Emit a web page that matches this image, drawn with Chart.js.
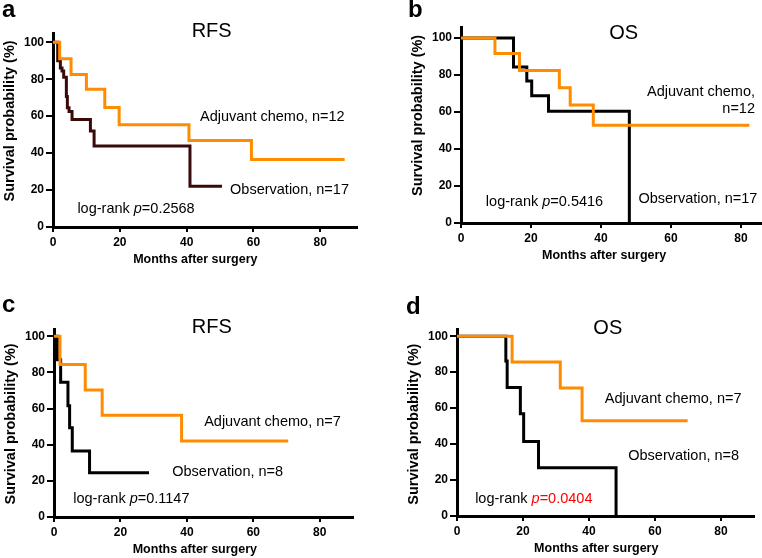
<!DOCTYPE html>
<html>
<head>
<meta charset="utf-8">
<script src="https://cdn.jsdelivr.net/npm/chart.js@4.4.1/dist/chart.umd.min.js"></script>
<style>
  html, body { margin: 0; padding: 0; background: #fff; }
  #fig { position: relative; width: 762px; height: 558px; }
  #fig canvas { position: absolute; }
</style>
</head>
<body>
<div id="fig">
  <canvas id="panel_a" width="381" height="279" style="left:0;top:0"></canvas>
  <canvas id="panel_b" width="381" height="279" style="left:381px;top:0"></canvas>
  <canvas id="panel_c" width="381" height="279" style="left:0;top:279px"></canvas>
  <canvas id="panel_d" width="381" height="279" style="left:381px;top:279px"></canvas>
</div>
<script>
const FONT = "'Liberation Sans', Arial, Helvetica, sans-serif";
const ORANGE = '#ff8c00';

const xTickValues = [0, 20, 40, 60, 80];
const yTickValues = [0, 20, 40, 60, 80, 100];

// a - RFS, all patients
const aChemoMonths = [0, 2.0, 5.4, 10.0, 15.5, 19.8, 40.7, 59.4, 87.3];
const aChemoSurv   = [100, 91.0, 82.5, 74.5, 64.7, 55.3, 46.8, 36.5, 36.5];
const aObsMonths   = [0, 1.4, 2.2, 2.7, 3.2, 4.0, 4.3, 4.8, 5.7, 11.2, 12.3, 41.0, 50.6];
const aObsSurv     = [100, 90, 86, 84.5, 81, 70.6, 64.5, 62.5, 58.2, 52, 43.8, 22, 22];

// b - OS, all patients
const bChemoMonths = [0, 9.7, 16.7, 28.1, 31.2, 37.8, 82.4];
const bChemoSurv   = [100, 91.7, 82.5, 73.2, 63.8, 52.8, 52.8];
const bObsMonths   = [0, 15.0, 18.8, 20.2, 25.0, 48.1];
const bObsSurv     = [100, 84.3, 76.8, 68.8, 60.4, 0];

// c - RFS, subgroup
const cChemoMonths = [0, 1.8, 9.4, 14.5, 38.4, 70.5];
const cChemoSurv   = [100, 84.3, 70.3, 56.3, 42.0, 42.0];
const cObsMonths   = [0, 1.0, 2.0, 4.2, 4.7, 5.5, 10.7, 28.6];
const cObsSurv     = [100, 87, 74.5, 61.5, 49.4, 36.5, 24.5, 24.5];

// d - OS, subgroup
const dChemoMonths = [0, 16.7, 31.3, 37.9, 69.9];
const dChemoSurv   = [100, 85.6, 71.2, 53.0, 53.0];
const dObsMonths   = [0, 14.8, 15.2, 19.2, 20.2, 24.7, 48.2];
const dObsSurv     = [100, 86.2, 71.4, 56.8, 41.5, 26.8, 0];

const W = 381, H = 279;

function toPoints(months, surv) {
    return months.map((m, i) => ({ x: m, y: surv[i] }));
}

function fontOf(part, size) {
    return (part.italic ? 'italic ' : '') + (part.bold ? 'bold ' : '') + size + 'px ' + FONT;
}

function drawRich(ctx, parts, x, y, align, size) {
    let total = 0;
    parts.forEach(p => {
        ctx.font = fontOf(p, size);
        p.w = ctx.measureText(p.text).width;
        total += p.w;
    });
    let cx = align === 'right' ? x - total : (align === 'center' ? x - total / 2 : x);
    ctx.textAlign = 'left';
    ctx.textBaseline = 'middle';
    parts.forEach(p => {
        ctx.font = fontOf(p, size);
        ctx.fillStyle = p.color || '#000';
        ctx.fillText(p.text, cx, y);
        cx += p.w;
    });
}

function textPlugin(cfg) {
    return {
        id: 'panelText',
        afterDraw(chart) {
            const ctx = chart.ctx;
            const xs = chart.scales.x, ys = chart.scales.y;
            const area = chart.chartArea;
            ctx.save();
            // panel letter
            ctx.font = 'bold 24px ' + FONT;
            ctx.fillStyle = '#000';
            ctx.textAlign = 'left';
            ctx.textBaseline = 'alphabetic';
            ctx.fillText(cfg.letter, cfg.letterPos[0], cfg.letterPos[1]);
            // title
            drawRich(ctx, [{ text: cfg.title }], xs.getPixelForValue(cfg.titleAt[0]), ys.getPixelForValue(cfg.titleAt[1]), 'center', 20);
            // notes
            cfg.notes.forEach(n => {
                drawRich(ctx, n.parts, xs.getPixelForValue(n.x), ys.getPixelForValue(n.y), n.align || 'left', 14.5);
            });
            // axis titles
            drawRich(ctx, [{ text: 'Months after surgery', bold: true }], xs.getPixelForValue(cfg.xTitleAt), area.bottom + 33, 'center', 12.5);
            ctx.translate(area.left - 43, ys.getPixelForValue(cfg.yTitleAt));
            ctx.rotate(-Math.PI / 2);
            drawRich(ctx, [{ text: 'Survival probability (%)', bold: true }], 0, 0, 'center', 14.5);
            ctx.restore();
        }
    };
}

function makePanel(id, cfg) {
    const tickFont = { family: FONT, size: 12, weight: 'bold' };
    new Chart(document.getElementById(id), {
        type: 'line',
        data: {
            datasets: [
                {
                    label: 'Adjuvant chemo',
                    data: toPoints(cfg.chemoMonths, cfg.chemoSurv),
                    borderColor: ORANGE,
                    borderWidth: 3,
                    stepped: true,
                    pointRadius: 0,
                    fill: false
                },
                {
                    label: 'Observation',
                    data: toPoints(cfg.obsMonths, cfg.obsSurv),
                    borderColor: cfg.obsColor,
                    borderWidth: 3,
                    stepped: true,
                    pointRadius: 0,
                    fill: false
                }
            ]
        },
        options: {
            responsive: false,
            animation: false,
            devicePixelRatio: 1,
            layout: {
                padding: { left: 0, top: cfg.area.top, right: W - cfg.area.right, bottom: 0 }
            },
            plugins: {
                legend: { display: false },
                tooltip: { enabled: false },
                title: { display: false }
            },
            scales: {
                x: {
                    type: 'linear',
                    min: 0,
                    max: cfg.xMax,
                    afterFit: s => { s.height = H - cfg.area.bottom; },
                    afterBuildTicks: s => { s.ticks = xTickValues.map(v => ({ value: v })); },
                    grid: { drawOnChartArea: false, drawTicks: true, tickLength: 5, color: '#000', lineWidth: 2 },
                    border: { display: true, color: '#000', width: 3 },
                    ticks: { font: tickFont, color: '#000', padding: 3, maxRotation: 0, autoSkip: false }
                },
                y: {
                    type: 'linear',
                    min: 0,
                    max: cfg.yMax,
                    afterFit: s => { s.width = cfg.area.left; },
                    afterBuildTicks: s => { s.ticks = yTickValues.map(v => ({ value: v })); },
                    grid: { drawOnChartArea: false, drawTicks: true, tickLength: 7, color: '#000', lineWidth: 2 },
                    border: { display: true, color: '#000', width: 3 },
                    ticks: { font: tickFont, color: '#000', padding: 2, autoSkip: false }
                }
            }
        },
        plugins: [textPlugin(cfg)]
    });
}

makePanel('panel_a', {
    chemoMonths: aChemoMonths, chemoSurv: aChemoSurv,
    obsMonths: aObsMonths, obsSurv: aObsSurv, obsColor: '#3a0a0a',
    area: { left: 53, top: 33, right: 357, bottom: 227 }, xMax: 91, yMax: 105,
    letter: 'a', letterPos: [2, 17],
    title: 'RFS', titleAt: [47.5, 106],
    xTitleAt: 42.6, yTitleAt: 57.4,
    notes: [
        { parts: [{ text: 'Adjuvant chemo, n=12' }], x: 44.0, y: 59.6 },
        { parts: [{ text: 'Observation, n=17' }], x: 53.0, y: 20.1 },
        { parts: [{ text: 'log-rank ' }, { text: 'p', italic: true }, { text: '=0.2568' }], x: 7.3, y: 9.8 }
    ]
});

makePanel('panel_b', {
    chemoMonths: bChemoMonths, chemoSurv: bChemoSurv,
    obsMonths: bObsMonths, obsSurv: bObsSurv, obsColor: '#000',
    area: { left: 80, top: 27, right: 381, bottom: 223 }, xMax: 86, yMax: 106,
    letter: 'b', letterPos: [27, 17],
    title: 'OS', titleAt: [46.5, 102.5],
    xTitleAt: 40.9, yTitleAt: 58.2,
    notes: [
        { parts: [{ text: 'Adjuvant chemo,' }], x: 84.0, y: 71.0, align: 'right' },
        { parts: [{ text: 'n=12' }], x: 84.0, y: 61.5, align: 'right' },
        { parts: [{ text: 'Observation, n=17' }], x: 50.7, y: 12.8 },
        { parts: [{ text: 'log-rank ' }, { text: 'p', italic: true }, { text: '=0.5416' }], x: 7.1, y: 11.5 }
    ]
});

makePanel('panel_c', {
    chemoMonths: cChemoMonths, chemoSurv: cChemoSurv,
    obsMonths: cObsMonths, obsSurv: cObsSurv, obsColor: '#000',
    area: { left: 54, top: 50, right: 353, bottom: 238 }, xMax: 90, yMax: 104,
    letter: 'c', letterPos: [2, 33],
    title: 'RFS', titleAt: [47.5, 104.8],
    xTitleAt: 42.4, yTitleAt: 51.5,
    notes: [
        { parts: [{ text: 'Adjuvant chemo, n=7' }], x: 45.2, y: 52.7 },
        { parts: [{ text: 'Observation, n=8' }], x: 35.6, y: 24.7 },
        { parts: [{ text: 'log-rank ' }, { text: 'p', italic: true }, { text: '=0.1147' }], x: 5.8, y: 9.9 }
    ]
});

makePanel('panel_d', {
    chemoMonths: dChemoMonths, chemoSurv: dChemoSurv,
    obsMonths: dObsMonths, obsSurv: dObsSurv, obsColor: '#000',
    area: { left: 76, top: 50, right: 373, bottom: 237 }, xMax: 90, yMax: 104,
    letter: 'd', letterPos: [25, 35],
    title: 'OS', titleAt: [45.7, 104.5],
    xTitleAt: 42.2, yTitleAt: 51.1,
    notes: [
        { parts: [{ text: 'Adjuvant chemo, n=7' }], x: 44.8, y: 64.8 },
        { parts: [{ text: 'Observation, n=8' }], x: 51.9, y: 33.4 },
        { parts: [{ text: 'log-rank ' }, { text: 'p', italic: true, color: '#ff0000' }, { text: '=0.0404', color: '#ff0000' }], x: 5.5, y: 9.4 }
    ]
});
</script>
</body>
</html>
